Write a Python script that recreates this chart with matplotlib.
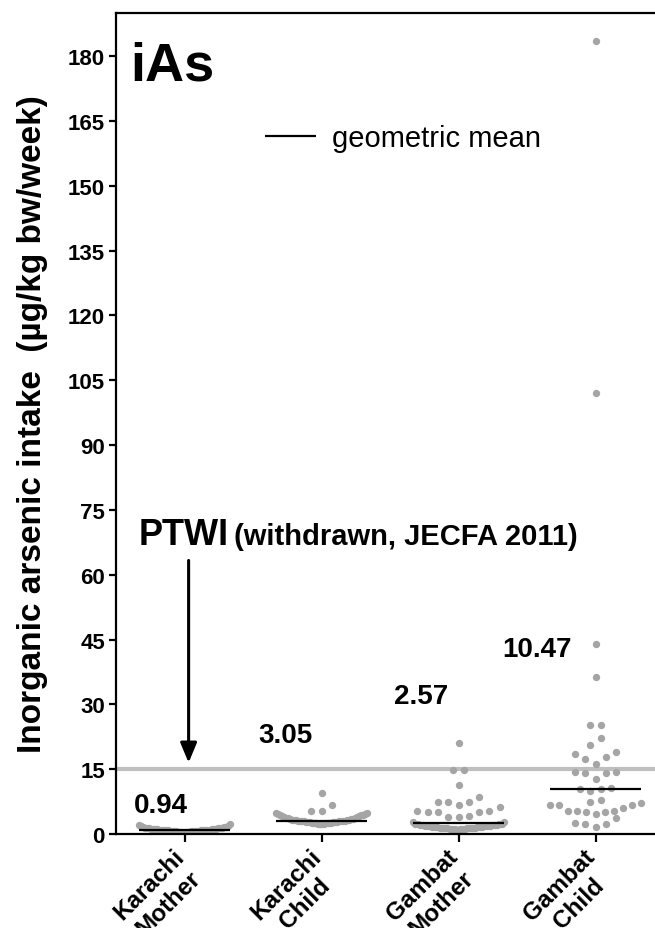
import numpy as np
import matplotlib.pyplot as plt
import matplotlib.transforms as mtransforms

plt.rcParams['font.family'] = ['Liberation Sans', 'DejaVu Sans']
plt.rcParams['font.weight'] = 'bold'

# data
groups = ['Karachi\nMother', 'Karachi\nChild', 'Gambat\nMother', 'Gambat\nChild']
karachi_mother = [0.35, 0.4, 0.45, 0.5, 0.5, 0.55, 0.6, 0.6, 0.65, 0.7, 0.7, 0.75,
                  0.75, 0.8, 0.8, 0.85, 0.85, 0.9, 0.9, 0.9, 0.95, 0.95, 1.0, 1.0,
                  1.0, 1.05, 1.1, 1.1, 1.15, 1.2, 1.2, 1.25, 1.3, 1.3, 1.35, 1.4,
                  1.45, 1.5, 1.55, 1.6, 1.7, 1.8, 1.9, 2.0, 2.2]
karachi_child = [2.3, 2.35, 2.4, 2.4, 2.45, 2.5, 2.5, 2.55, 2.6, 2.6, 2.65, 2.7,
                 2.7, 2.75, 2.8, 2.8, 2.85, 2.9, 2.9, 2.95, 3.0, 3.0, 3.05, 3.1,
                 3.1, 3.15, 3.2, 3.25, 3.3, 3.35, 3.4, 3.5, 3.55, 3.6, 3.7, 3.8,
                 3.9, 4.0, 4.1, 4.2, 4.3, 4.4, 4.5, 4.6, 4.7, 4.8, 4.9,
                 5.4, 5.4, 6.6, 9.4]
gambat_mother = [1.0, 1.05, 1.1, 1.15, 1.2, 1.2, 1.25, 1.3, 1.3, 1.35, 1.4, 1.4,
                 1.45, 1.5, 1.5, 1.55, 1.6, 1.6, 1.65, 1.7, 1.7, 1.75, 1.8, 1.8,
                 1.85, 1.9, 1.95, 2.0, 2.0, 2.05, 2.1, 2.15, 2.2, 2.25, 2.3, 2.35,
                 2.7, 2.7, 3.9, 3.9, 4.2, 5.0, 5.0, 5.0, 5.3, 5.3, 6.2, 6.7,
                 7.4, 7.4, 7.4, 8.6, 11.4, 14.7, 14.7, 21.0]
gambat_child = [1.7, 2.3, 2.3, 2.5, 3.6, 4.6, 5.0, 5.0, 5.3, 5.4, 5.4, 6.0,
                6.6, 6.6, 6.6, 7.2, 7.3, 7.9, 10.0, 10.3, 10.3, 10.7, 12.7,
                14.1, 14.1, 14.4, 14.4, 16.3, 17.4, 17.8, 18.4, 18.9, 20.6,
                22.2, 25.3, 25.3, 36.3, 44.0, 102.0, 183.6]
values = [karachi_mother, karachi_child, gambat_mother, gambat_child]
geo_means = [0.94, 3.05, 2.57, 10.47]
ptwi = 15
yticks = list(range(0, 181, 15))

# where the mean labels sit (x centre, baseline)
label_pos = [(-0.175, 5.2), (0.74, 21.3), (1.73, 30.4), (2.57, 41.2)]


def swarm(vals, row_h=2.65, step=0.075, half_w=0.335):
    # prism-like column scatter: bin into rows, spread each row from the centre out
    vals = np.asarray(vals, dtype=float)
    order = np.argsort(vals, kind='stable')
    v = vals[order]
    offs = np.zeros(len(v))
    i = 0
    while i < len(v):
        j = i
        while j < len(v) and v[j] < v[i] + row_h:
            j += 1
        n = j - i
        s = step if n == 1 else min(step, 2 * half_w / (n - 1))
        for k in range(n):
            if n % 2:
                pos = ((k + 1) // 2) * (-1 if k % 2 else 1)
            else:
                pos = (k // 2 + 0.5) * (-1 if k % 2 == 0 else 1)
            offs[i + k] = pos * s
        i = j
    out = np.empty(len(v))
    out[order] = offs
    return out


fig = plt.figure(figsize=(6.55, 9.29), dpi=100)
ax = fig.add_axes([0.1771, 0.1012, 0.8229, 0.8837])

ax.axhline(ptwi, color='#bfbfbf', lw=3, zorder=1)

for i, vals in enumerate(values):
    ax.scatter(i + swarm(vals), vals, s=28, color='#a5a5a5', linewidths=0, zorder=2)
    ax.hlines(geo_means[i], i - 0.33, i + 0.33, color='black', lw=1.6, zorder=3,
              label='geometric mean' if i == 0 else None)
    ax.text(label_pos[i][0], label_pos[i][1], f'{geo_means[i]:.2f}', fontsize=20,
            ha='center', va='baseline')

ax.set_xlim(-0.5, 3.434)
ax.set_ylim(0, 190)
ax.set_yticks(yticks)
ax.set_xticks(range(len(groups)))
ax.set_xticklabels([])
# rotated group names, drawn as text so they can sit a little left of the tick
lab_trans = ax.get_xaxis_transform() + mtransforms.ScaledTranslation(
    -0.12, -0.10, fig.dpi_scale_trans)
for i, g in enumerate(groups):
    ax.text(i, 0, g, transform=lab_trans, rotation=45, ha='right', va='top',
            rotation_mode='anchor', multialignment='center', fontsize=17.5)
ax.tick_params(axis='y', labelsize=16, length=5, width=1.6, pad=3)
ax.tick_params(axis='x', length=6, width=1.6, pad=3)
for side in ['left', 'bottom', 'top']:
    ax.spines[side].set_linewidth(1.6)
ax.spines['right'].set_visible(False)

ax.set_ylabel('Inorganic arsenic intake  (µg/kg bw/week)', fontsize=24,
              fontweight='bold')
ax.yaxis.set_label_coords(-0.126, 0.5)

ax.text(-0.394, 174.6, 'iAs', fontsize=39, ha='left', va='baseline')

ax.legend(loc='center left', bbox_to_anchor=(0.276, 0.848), frameon=False,
          borderpad=0, borderaxespad=0, handlelength=1.75, handletextpad=0.55,
          prop={'weight': 'normal', 'size': 21})

# PTWI annotation
ax.annotate('', xy=(0.03, 16.5), xytext=(0.03, 63.3),
            arrowprops=dict(arrowstyle='-|>,head_length=0.6,head_width=0.25',
                            mutation_scale=20, lw=2.2, color='black',
                            shrinkA=0, shrinkB=0))
t1 = ax.text(-0.336, 67.2, 'PTWI', fontsize=26, ha='left', va='baseline')
fig.canvas.draw()
bb = t1.get_window_extent()
x_end = ax.transData.inverted().transform((bb.x1, bb.y0))[0]
ax.text(x_end + 0.04, 67.2, '(withdrawn, JECFA 2011)', fontsize=21,
        ha='left', va='baseline')

fig.savefig('out.png', dpi=100)
